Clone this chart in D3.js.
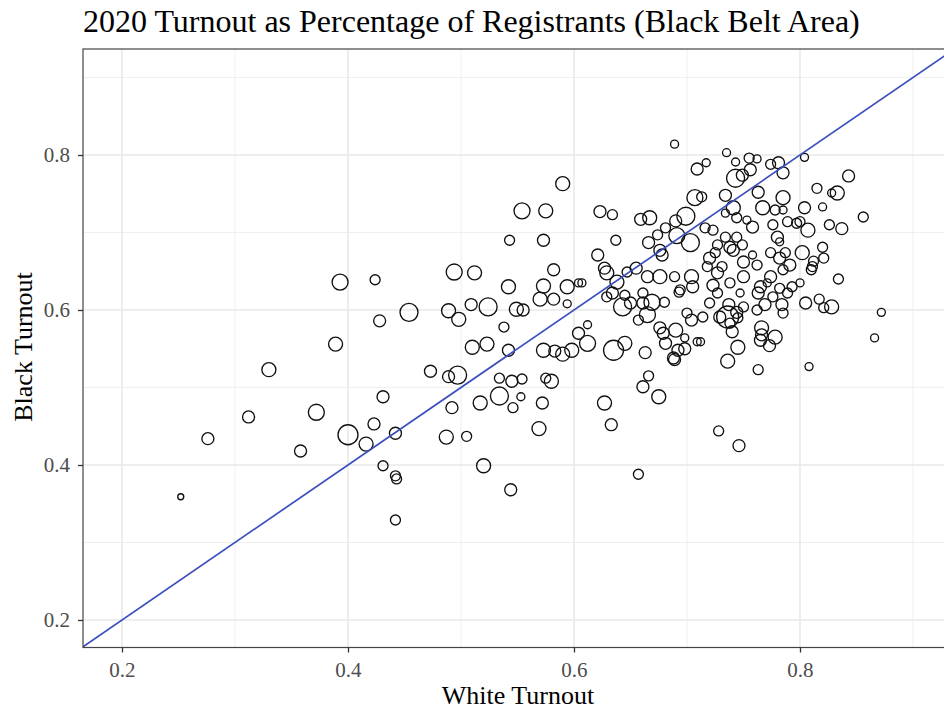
<!DOCTYPE html>
<html><head><meta charset="utf-8">
<script src="https://cdn.jsdelivr.net/npm/d3@7"></script>
<style>body{margin:0;background:#fff}svg{display:block}</style>
</head><body><svg id="c" width="944" height="710"></svg>
<script>
const whiteTurnout = [
.393,.424,.428,.389,.330,.431,.372,.312,.423,.400,.276,.416,.358,.431,.442,.443,.252,.442,.442,
.590,.554,.575,.543,.573,.494,.512,.582,.542,.573,.594,.604,.454,.489,.498,.509,.524,.549,.555,.570,.582,.594,.538,.604,.510,.523,.542,.573,.583,.590,.598,.473,.489,.497,.534,.545,.554,.575,.580,
.492,.517,.534,.546,.553,.572,.487,.505,.569,.520,.544,
.689,.709,.623,.634,.659,.667,.707,.690,.699,.637,.674,.681,.691,.703,.666,.676,.678,.621,.627,.629,.638,.647,.655,.665,.676,.689,.704,.634,.645,.661,.694,.705,.607,
.629,.643,.650,.661,.669,.680,.665,.657,.693,.612,.612,.635,.645,.663,.676,.679,.690,.681,.698,.700,.704,.709,.692,.698,.689,.688,.666,.661,.675,.627,.633,.657,
.735,.717,.743,.755,.762,.774,.781,.743,.749,.756,.785,.734,.763,.785,.713,.741,.767,.778,.785,.734,.744,.753,.758,.776,.789,.797,.716,.723,.734,.744,.780,.782,.727,.738,.749,.725,.741,.758,.787,.774,.720,.750,.782,.718,.731,.762,.791,.727,.750,.774,.785,.723,.738,.765,.782,.793,.747,.771,
.727,.763,.776,.789,.720,.737,.750,.769,.784,.762,.714,.729,.736,.744,.745,.785,.738,.766,.740,.766,.778,.765,.773,.745,.736,.763,.712,.728,.746,
.804,.843,.815,.828,.833,.804,.820,.856,.807,.826,.837,.800,.802,.820,.821,.812,.811,.810,.834,.800,.805,.817,.821,.828,.872,.866,.808
];
const blackTurnout = [
.636,.639,.586,.556,.523,.488,.468,.462,.453,.439,.434,.427,.418,.399,.386,.382,.359,.329,.441,
.763,.728,.728,.690,.690,.649,.648,.652,.630,.631,.630,.635,.597,.599,.588,.607,.604,.601,.600,.614,.614,.608,.578,.570,.552,.556,.548,.548,.547,.543,.548,.521,.514,.516,.512,.508,.511,.512,.508,
.474,.480,.489,.474,.488,.480,.436,.437,.447,.399,.368,
.814,.782,.727,.723,.717,.719,.745,.715,.721,.690,.697,.706,.696,.687,.687,.677,.671,.671,.654,.648,.636,.649,.654,.643,.643,.643,.643,.622,.619,.622,.626,.630,.635,
.617,.604,.609,.609,.610,.610,.594,.587,.623,.581,.557,.548,.557,.545,.577,.570,.574,.557,.564,.596,.587,.559,.548,.550,.536,.538,.515,.501,.488,.480,.452,.388,
.803,.790,.791,.796,.795,.788,.790,.770,.774,.781,.777,.748,.752,.745,.746,.732,.732,.729,.729,.725,.719,.716,.707,.710,.714,.712,.706,.703,.694,.694,.694,.688,.684,.681,.684,.674,.677,.671,.674,.674,.667,.662,.667,.656,.656,.658,.658,.648,.643,.643,.652,.632,.635,.630,.628,.630,.622,.635,
.622,.622,.617,.622,.609,.607,.604,.607,.607,.600,.591,.591,.591,.597,.590,.596,.583,.577,.572,.568,.565,.561,.554,.552,.534,.523,.559,.444,.425,
.797,.773,.757,.751,.751,.732,.733,.720,.703,.710,.705,.714,.674,.681,.667,.663,.656,.652,.640,.635,.609,.614,.603,.604,.597,.564,.527
];
const registrants = [
64,25,36,49,49,36,64,36,36,100,36,49,36,25,25,25,9,25,36,
49,64,49,25,36,64,49,36,49,49,49,16,81,49,49,36,81,49,36,49,36,16,25,36,49,49,36,49,36,49,49,36,36,81,25,36,25,25,49,
36,49,81,25,16,36,49,25,49,49,36,
16,36,36,25,36,49,64,36,81,25,25,25,64,81,36,36,36,36,36,49,49,25,36,36,49,25,49,36,25,25,25,36,16,
25,81,36,36,64,25,64,25,25,16,64,100,49,36,36,36,49,36,16,25,36,16,36,36,36,36,25,36,49,49,36,25,
16,16,16,25,16,25,36,81,36,36,36,36,36,49,25,49,49,25,16,16,25,16,36,25,25,25,25,25,25,25,36,16,25,36,25,25,36,16,25,25,36,36,36,25,25,25,36,36,36,36,25,36,25,36,25,25,16,16,
25,36,25,25,25,36,25,36,36,25,25,36,121,36,25,25,25,49,36,36,49,36,36,49,49,25,16,25,36,
16,36,25,16,49,36,16,25,49,25,36,25,49,25,25,25,25,25,25,16,36,25,25,49,16,16,16
];
const xTicks = [0.2, 0.4, 0.6, 0.8];
const yTicks = [0.2, 0.4, 0.6, 0.8];
const xMinor = [0.3, 0.5, 0.7, 0.9];
const yMinor = [0.3, 0.5, 0.7, 0.9];
const xDomain = [0.1655, 0.9354];
const yDomain = [0.1645, 0.9355];
const titleText = "2020 Turnout as Percentage of Registrants (Black Belt Area)";
const xLabel = "White Turnout";
const yLabel = "Black Turnout";

const FONT = "'Liberation Serif','Times New Roman',serif";
const svg = d3.select("#c");
const P = {l: 83, r: 953, t: 49, b: 647.5};
const x = d3.scaleLinear().domain(xDomain).range([P.l, P.r]);
const y = d3.scaleLinear().domain(yDomain).range([P.b, P.t + 1]);
const rs = d3.scaleSqrt().domain([0, 121]).range([0, 11]);

svg.append("rect").attr("width", 944).attr("height", 710).attr("fill", "#fff");
svg.append("defs").append("clipPath").attr("id", "clip")
  .append("rect").attr("x", P.l).attr("y", P.t).attr("width", P.r - P.l).attr("height", P.b - P.t);

const panel = svg.append("g").attr("clip-path", "url(#clip)");
// minor grid
panel.selectAll(".vminor").data(xMinor).join("line")
  .attr("x1", d => x(d)).attr("x2", d => x(d)).attr("y1", P.t).attr("y2", P.b)
  .attr("stroke", "#ebebeb").attr("stroke-width", 0.8);
panel.selectAll(".hminor").data(yMinor).join("line")
  .attr("y1", d => y(d)).attr("y2", d => y(d)).attr("x1", P.l).attr("x2", P.r)
  .attr("stroke", "#ebebeb").attr("stroke-width", 0.8);
// major grid
panel.selectAll(".vmajor").data(xTicks).join("line")
  .attr("x1", d => x(d)).attr("x2", d => x(d)).attr("y1", P.t).attr("y2", P.b)
  .attr("stroke", "#e8e8e8").attr("stroke-width", 1.5);
panel.selectAll(".hmajor").data(yTicks).join("line")
  .attr("y1", d => y(d)).attr("y2", d => y(d)).attr("x1", P.l).attr("x2", P.r)
  .attr("stroke", "#e8e8e8").attr("stroke-width", 1.5);

const pts = whiteTurnout.map((w, i) => ({w, b: blackTurnout[i], s: registrants[i]}));
panel.selectAll("circle.pt").data(pts).join("circle")
  .attr("class", "pt")
  .attr("cx", d => x(d.w)).attr("cy", d => y(d.b)).attr("r", d => rs(d.s))
  .attr("fill", "none").attr("stroke", "#111").attr("stroke-width", 1.35);

// y = x reference line
panel.append("line")
  .attr("x1", x(xDomain[0])).attr("y1", y(xDomain[0]))
  .attr("x2", x(xDomain[1])).attr("y2", y(xDomain[1]))
  .attr("stroke", "#3b4fbf").attr("stroke-width", 1.7);

svg.append("rect").attr("x", P.l).attr("y", P.t).attr("width", P.r - P.l).attr("height", P.b - P.t)
  .attr("fill", "none").attr("stroke", "#444").attr("stroke-width", 1.2);

const fmt = d3.format(".1f");
const gx = svg.append("g").attr("transform", `translate(0,${P.b})`)
  .call(d3.axisBottom(x).tickValues(xTicks).tickSize(5).tickPadding(10).tickFormat(fmt));
const gy = svg.append("g").attr("transform", `translate(${P.l},0)`)
  .call(d3.axisLeft(y).tickValues(yTicks).tickSize(5).tickPadding(8).tickFormat(fmt));
[gx, gy].forEach(g => {
  g.select(".domain").remove();
  g.selectAll(".tick line").attr("stroke", "#333").attr("stroke-width", 1.3);
  g.selectAll(".tick text").attr("fill", "#4d4d4d").style("font-family", FONT).style("font-size", "21px");
});

svg.append("text").attr("x", 83).attr("y", 32).text(titleText)
  .style("font-family", FONT).style("font-size", "32px").attr("fill", "#000");
svg.append("text").attr("x", 518).attr("y", 704).attr("text-anchor", "middle").text(xLabel)
  .style("font-family", FONT).style("font-size", "26px").attr("fill", "#000");
svg.append("text").attr("transform", "translate(32,347) rotate(-90)").attr("text-anchor", "middle").text(yLabel)
  .style("font-family", FONT).style("font-size", "26px").attr("fill", "#000");
</script>
</body></html>
